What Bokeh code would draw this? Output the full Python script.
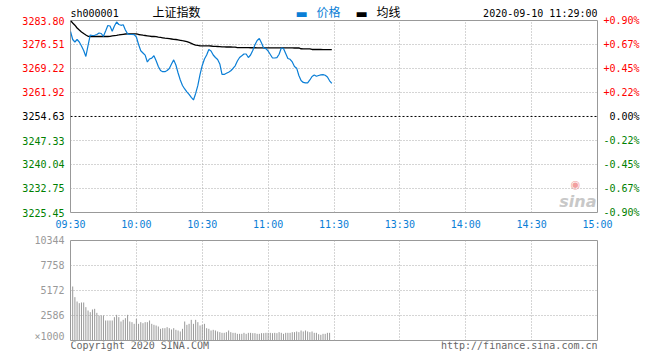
from bokeh.plotting import figure
from bokeh.models import Range1d, FixedTicker, ColumnDataSource, Label, Span
from bokeh.layouts import column, row
from bokeh.embed import file_html
from bokeh.resources import INLINE
from bokeh.core.properties import value

# ---------------- data ----------------
symbol = "sh000001"
name = "上证指数"
timestamp = "2020-09-10 11:29:00"
legend_price = "价格"
legend_avg = "均线"
copyright_text = "Copyright 2020 SINA.COM"
url_text = "http://finance.sina.com.cn"
prev_close = 3254.63

price_ticks = [3283.80, 3276.51, 3269.22, 3261.92, 3254.63, 3247.33, 3240.04, 3232.75, 3225.45]
pct_labels = ["+0.90%", "+0.67%", "+0.45%", "+0.22%", "0.00%", "-0.22%", "-0.45%", "-0.67%", "-0.90%"]

time_ticks = [0, 30, 60, 90, 120, 150, 180, 210, 240]
time_labels = ["09:30", "10:00", "10:30", "11:00", "11:30", "13:30", "14:00", "14:30", "15:00"]

vol_ticks = [0, 2586, 5172, 7758, 10344]
vol_labels = ["×1000", "2586", "5172", "7758", "10344"]

minutes = list(range(120))
price = [3280.46, 3278.03, 3277.27, 3278.03, 3277.27, 3276.05, 3274.69, 3272.86, 3276.21, 3279.40,
         3279.24, 3279.30, 3279.55, 3280.00, 3279.85, 3279.00, 3280.61, 3282.28, 3282.13, 3280.55,
         3282.13, 3283.34, 3282.58, 3282.34, 3282.52, 3280.91, 3279.73, 3279.55, 3279.55, 3279.49,
         3278.79, 3276.51, 3274.60, 3273.93, 3273.26, 3271.19, 3272.11, 3272.35, 3273.08, 3271.59,
         3269.83, 3268.61, 3268.25, 3268.25, 3268.61, 3269.22, 3270.59, 3271.83, 3270.28, 3267.85,
         3265.73, 3264.06, 3262.99, 3262.14, 3261.32, 3260.41, 3259.65, 3261.63, 3264.06, 3267.40,
         3270.13, 3272.11, 3273.32, 3274.99, 3274.54, 3273.32, 3272.56, 3271.95, 3270.59, 3267.40,
         3267.40, 3267.76, 3268.10, 3268.52, 3269.22, 3270.04, 3271.50, 3272.56, 3273.08, 3273.62,
         3273.62, 3272.56, 3273.32, 3274.69, 3276.42, 3277.72, 3278.33, 3276.97, 3275.39, 3275.23,
         3274.54, 3273.47, 3272.41, 3272.41, 3272.50, 3273.53, 3275.45, 3275.29, 3273.78, 3272.26,
         3272.01, 3271.19, 3269.83, 3269.31, 3267.09, 3265.57, 3264.97, 3264.82, 3264.82, 3265.73,
         3266.79, 3267.25, 3266.85, 3267.09, 3267.25, 3267.34, 3267.15, 3266.64, 3265.48, 3264.66]

avg_price = [3283.80, 3283.04, 3282.37, 3281.52, 3280.91, 3280.31, 3279.85, 3279.40, 3279.00, 3278.94,
             3278.94, 3278.94, 3278.94, 3278.94, 3278.94, 3278.94, 3278.94, 3278.94, 3279.00, 3279.12,
             3279.21, 3279.30, 3279.40, 3279.52, 3279.61, 3279.70, 3279.76, 3279.76, 3279.76, 3279.76,
             3279.76, 3279.55, 3279.46, 3279.33, 3279.24, 3279.15, 3279.06, 3278.94, 3278.94, 3278.88,
             3278.73, 3278.64, 3278.55, 3278.45, 3278.36, 3278.27, 3278.18, 3278.09, 3278.03, 3277.91,
             3277.79, 3277.66, 3277.54, 3277.36, 3277.12, 3276.87, 3276.57, 3276.33, 3276.21, 3276.08,
             3276.08, 3276.07, 3276.06, 3276.06, 3276.05, 3275.92, 3275.91, 3275.90, 3275.89, 3275.77,
             3275.76, 3275.75, 3275.75, 3275.74, 3275.73, 3275.72, 3275.55, 3275.54, 3275.54, 3275.53,
             3275.53, 3275.53, 3275.52, 3275.52, 3275.52, 3275.51, 3275.51, 3275.51, 3275.50, 3275.50,
             3275.50, 3275.49, 3275.49, 3275.48, 3275.48, 3275.48, 3275.47, 3275.47, 3275.47, 3275.46,
             3275.46, 3275.46, 3275.45, 3275.45, 3275.45, 3275.21, 3275.20, 3275.20, 3275.19, 3275.19,
             3274.99, 3274.99, 3274.98, 3274.98, 3274.98, 3274.97, 3274.97, 3274.97, 3274.96, 3274.96]

vol_minutes = list(range(1, 119))
volume = [5586, 4482, 4034, 3862, 3931, 3931, 3448, 3103, 2931, 3207,
          3276, 2862, 2586, 2586, 2586, 2069, 2069, 2069, 2069, 2414,
          2655, 2414, 1965, 2138, 2310, 2655, 1965, 1896, 1724, 2241,
          1724, 1896, 1793, 1896, 1896, 2069, 1724, 1621, 1552, 1448,
          1207, 1276, 1276, 1379, 1276, 1138, 1276, 1103, 1034, 931,
          1207, 1965, 1621, 1724, 2138, 1724, 2138, 1896, 1552, 1621,
          1724, 1276, 1207, 1034, 1103, 1034, 931, 862, 793, 793,
          862, 1034, 862, 793, 793, 690, 690, 690, 793, 690,
          793, 793, 759, 759, 690, 690, 759, 759, 793, 793,
          793, 759, 793, 759, 862, 793, 690, 793, 793, 793,
          862, 862, 931, 862, 1034, 931, 1034, 931, 862, 931,
          793, 793, 650, 586, 690, 690, 793, 793]

# ---------------- style / layout ----------------
MONO = "DejaVu Sans Mono"
CJK = "Noto Sans CJK SC"
BLUE = "#0a7ed6"
RED = "#ff0000"
GREEN = "#008000"
GRID = "#aaaaaa"
FRAME = "#999999"

TOTAL_W = 660
LEFT_W = 69          # left label strip (frame starts one px later)
FRAME_W = 527
MAIN_W = FRAME_W + 2
RIGHT_W = TOTAL_W - LEFT_W - MAIN_W
HEAD_H = 19
FRAME_H = 192
MAIN_PAD_B = 5
MAIN_H = 1 + FRAME_H + MAIN_PAD_B
TIME_H = 13
VOL_TOP = 10
VOL_FRAME_H = 100
VOL_H = VOL_TOP + VOL_FRAME_H + 1
FOOT_H = 19

x_lo, x_hi = time_ticks[0], time_ticks[-1]
y_lo, y_hi = price_ticks[-1], price_ticks[0]
unit = (y_hi - y_lo) / FRAME_H
xunit = (x_hi - x_lo) / FRAME_W


def bare(fig):
    fig.outline_line_color = None
    fig.grid.visible = False
    fig.background_fill_color = "white"
    fig.border_fill_color = "white"
    fig.frame_align = False
    return fig


def txt(fig, x, y, s, color="black", font=MONO, size="10px", align="left",
        baseline="middle", xo=0, yo=0, style="normal"):
    fig.text(x=[x], y=[y], text=[s], text_color=color, text_font=value(font),
             text_font_size=size, text_align=align, text_baseline=baseline,
             x_offset=xo, y_offset=yo, text_font_style=style)


# ---------------- main price figure ----------------
p = figure(width=MAIN_W, height=MAIN_H, output_backend="svg", toolbar_location=None,
           x_range=Range1d(x_lo, x_hi), y_range=Range1d(y_lo, y_hi),
           x_axis_location=None, y_axis_location=None,
           min_border_left=1, min_border_right=1, min_border_top=1,
           min_border_bottom=MAIN_PAD_B)
p.outline_line_color = FRAME
p.outline_line_width = 1
p.background_fill_color = "white"
p.border_fill_color = "white"
p.xgrid.ticker = FixedTicker(ticks=time_ticks)
p.xgrid.grid_line_color = GRID
p.xgrid.grid_line_dash = "1 2"
p.ygrid.ticker = FixedTicker(ticks=[tk for tk in price_ticks if tk != prev_close])
p.ygrid.grid_line_color = GRID
p.ygrid.grid_line_dash = "1 2"

p.add_layout(Span(location=prev_close, dimension="width", line_color="black",
                  line_dash="2 2", line_width=1))
p.line(minutes, avg_price, line_color="black", line_width=1.3)
p.line(minutes, price, line_color=BLUE, line_width=1.2)

# sina watermark
p.add_layout(Label(x=x_hi, y=y_lo, x_offset=-1, y_offset=11, text="sina",
                   text_color="#c8c8c8", text_font="DejaVu Sans", text_font_size="16px",
                   text_font_style="bold italic", text_align="right", text_baseline="alphabetic"))
p.add_layout(Label(x=x_hi, y=y_lo, x_offset=-22, y_offset=28, text="◉",
                   text_color="#f2a0a0", text_font="DejaVu Sans", text_font_size="11px",
                   text_align="center", text_baseline="middle"))

# ---------------- header strip ----------------
h = bare(figure(width=MAIN_W, height=HEAD_H, output_backend="svg", toolbar_location=None,
                x_range=p.x_range, y_range=Range1d(0, 1),
                x_axis_location=None, y_axis_location=None,
                min_border_left=1, min_border_right=1, min_border_top=0, min_border_bottom=0))
txt(h, x_lo, 0.5, symbol, yo=3)
txt(h, x_lo, 0.5, name, font=CJK, size="12px", xo=82, yo=1.5)
txt(h, x_lo, 0.5, "▬", color=BLUE, font="DejaVu Sans", size="13px", xo=225, yo=3)
txt(h, x_lo, 0.5, legend_price, color=BLUE, font=CJK, size="12px", xo=246, yo=1.5)
txt(h, x_lo, 0.5, "▬", font="DejaVu Sans", size="13px", xo=285, yo=3)
txt(h, x_lo, 0.5, legend_avg, font=CJK, size="12px", xo=306, yo=1.5)
txt(h, x_hi, 0.5, timestamp, align="right", yo=3)

# ---------------- side label strips ----------------
side_range = Range1d(y_lo - MAIN_PAD_B * unit, y_hi + (HEAD_H + 1) * unit)
tick_colors = [RED if tk > prev_close else ("black" if tk == prev_close else GREEN) for tk in price_ticks]
src = ColumnDataSource(dict(
    x_left=[1] * len(price_ticks), x_right=[0] * len(price_ticks), y=price_ticks,
    left=[f"{tk:.2f}" for tk in price_ticks], right=pct_labels, color=tick_colors))

lf = bare(figure(width=LEFT_W, height=HEAD_H + MAIN_H, output_backend="svg", toolbar_location=None,
                 x_range=Range1d(0, 1), y_range=side_range,
                 x_axis_location=None, y_axis_location=None, min_border=0))
lf.text(x="x_left", y="y", text="left", source=src, x_offset=-5, text_align="right",
        text_baseline="middle", text_color="color", text_font=value(MONO), text_font_size="10px")

rf = bare(figure(width=RIGHT_W, height=HEAD_H + MAIN_H, output_backend="svg", toolbar_location=None,
                 x_range=Range1d(0, 1), y_range=side_range,
                 x_axis_location=None, y_axis_location=None, min_border=0))
rf.text(x="x_right", y="y", text="right", source=src, x_offset=41, text_align="right",
        text_baseline="middle", text_color="color", text_font=value(MONO), text_font_size="10px")

# ---------------- time label strip ----------------
t = bare(figure(width=TOTAL_W, height=TIME_H, output_backend="svg", toolbar_location=None,
                x_range=Range1d(x_lo - (LEFT_W + 1) * xunit, x_hi + (RIGHT_W + 1) * xunit),
                y_range=Range1d(0, 1), x_axis_location=None, y_axis_location=None, min_border=0))
t.text(x=time_ticks, y=[0.5] * len(time_ticks), text=time_labels, text_color=BLUE,
       text_font=value(MONO), text_font_size="10px", text_align="center", text_baseline="middle")

# ---------------- volume figure ----------------
v = figure(width=TOTAL_W, height=VOL_H, output_backend="svg", toolbar_location=None,
           x_range=p.x_range, y_range=Range1d(vol_ticks[0], vol_ticks[-1]),
           x_axis_location=None,
           min_border_left=LEFT_W + 1, min_border_right=RIGHT_W + 1,
           min_border_top=VOL_TOP, min_border_bottom=1)
v.outline_line_color = FRAME
v.outline_line_width = 1
v.background_fill_color = "white"
v.border_fill_color = "white"
v.frame_align = False

v.yaxis.ticker = FixedTicker(ticks=vol_ticks)
v.yaxis.major_label_overrides = {tk: s for tk, s in zip(vol_ticks, vol_labels)}
v.yaxis.axis_line_color = None
v.yaxis.major_tick_line_color = None
v.yaxis.minor_tick_line_color = None
v.yaxis.major_tick_out = 0
v.yaxis.major_tick_in = 0
v.yaxis.major_label_standoff = 6
v.yaxis.major_label_text_color = "#999999"
v.yaxis.major_label_text_font = MONO
v.yaxis.major_label_text_font_size = "10px"

v.xgrid.ticker = FixedTicker(ticks=time_ticks)
v.xgrid.grid_line_color = GRID
v.xgrid.grid_line_dash = "1 2"
v.ygrid.ticker = FixedTicker(ticks=vol_ticks)
v.ygrid.grid_line_color = GRID
v.ygrid.grid_line_dash = "1 2"

v.segment(x0=vol_minutes, y0=[vol_ticks[0]] * len(vol_minutes), x1=vol_minutes, y1=volume,
          line_color="#999999", line_width=1)

# ---------------- footer strip ----------------
f = bare(figure(width=TOTAL_W, height=FOOT_H, output_backend="svg", toolbar_location=None,
                x_range=p.x_range, y_range=Range1d(0, 1),
                x_axis_location=None, y_axis_location=None,
                min_border_left=LEFT_W + 1, min_border_right=RIGHT_W + 1,
                min_border_top=0, min_border_bottom=0))
txt(f, x_lo, 1, copyright_text, color="#666666", yo=4)
txt(f, x_hi, 1, url_text, color="#666666", align="right", yo=4)

p.frame_align = False
layout = column(row(lf, column(h, p), rf), t, v, f)
open("out.html", "w").write(file_html(layout, INLINE))
